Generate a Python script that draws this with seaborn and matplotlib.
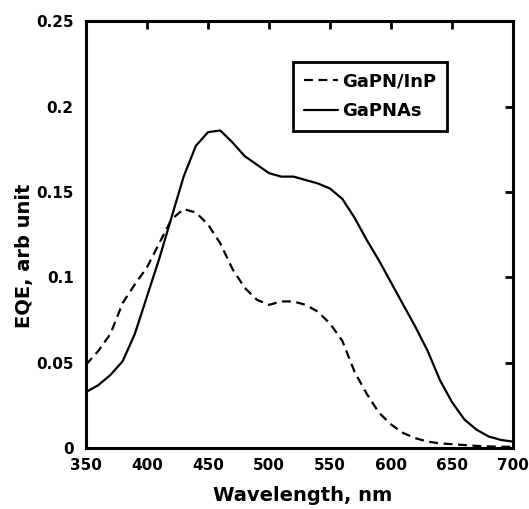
import numpy as np
import pandas as pd
import matplotlib
matplotlib.use("Agg")
import matplotlib.pyplot as plt
import seaborn as sns

# Wavelength grid (nm)
wavelength = [350, 360, 370, 380, 390, 400, 410, 420, 430, 440, 450, 460, 470, 480,
              490, 500, 510, 520, 530, 540, 550, 560, 570, 580, 590, 600, 610, 620,
              630, 640, 650, 660, 670, 680, 690, 700]

# EQE values
eqe_gapn_inp = [0.049, 0.057, 0.067, 0.085, 0.096, 0.106, 0.120, 0.134, 0.140, 0.138,
                0.131, 0.120, 0.105, 0.094, 0.087, 0.084, 0.086, 0.086, 0.084, 0.080,
                0.073, 0.063, 0.045, 0.032, 0.021, 0.014, 0.009, 0.006, 0.004, 0.003,
                0.0025, 0.002, 0.0015, 0.0012, 0.001, 0.001]
eqe_gapnas = [0.033, 0.037, 0.043, 0.051, 0.067, 0.089, 0.111, 0.135, 0.159, 0.177,
              0.185, 0.186, 0.179, 0.171, 0.166, 0.161, 0.159, 0.159, 0.157, 0.155,
              0.152, 0.146, 0.135, 0.122, 0.110, 0.097, 0.084, 0.071, 0.057, 0.040,
              0.027, 0.017, 0.011, 0.007, 0.005, 0.004]

xticks = [350, 400, 450, 500, 550, 600, 650, 700]
yticks = [0, 0.05, 0.1, 0.15, 0.2, 0.25]
ytick_labels = ["0", "0.05", "0.1", "0.15", "0.2", "0.25"]

df = pd.DataFrame({
    "wavelength": wavelength * 2,
    "eqe": eqe_gapn_inp + eqe_gapnas,
    "sample": ["GaPN/InP"] * len(wavelength) + ["GaPNAs"] * len(wavelength),
})

sns.set_theme(style="white")
plt.rcParams["font.family"] = ["DejaVu Sans"]
plt.rcParams["font.weight"] = "bold"
plt.rcParams["text.color"] = "black"
plt.rcParams["axes.labelcolor"] = "black"
plt.rcParams["xtick.color"] = "black"
plt.rcParams["ytick.color"] = "black"

fig = plt.figure(figsize=(5.29, 5.09), dpi=100)
ax = fig.add_axes([0.1626, 0.1189, 0.8074, 0.8398])

sns.lineplot(data=df, x="wavelength", y="eqe", style="sample",
             dashes={"GaPN/InP": (4, 2.5), "GaPNAs": ""},
             color="black", linewidth=1.6, ax=ax)

ax.set_xlim(350, 700)
ax.set_ylim(0, 0.25)
ax.set_xticks(xticks)
ax.set_yticks(yticks)
ax.set_yticklabels(ytick_labels)
ax.tick_params(direction="in", length=6, width=2, top=True, right=True,
               labelsize=11, labelcolor="black")
ax.tick_params(axis="x", pad=7)
ax.tick_params(axis="y", pad=9)
for lbl in ax.get_xticklabels() + ax.get_yticklabels():
    lbl.set_fontweight("bold")
for sp in ax.spines.values():
    sp.set_linewidth(2.2)
    sp.set_color("black")

ax.set_xlabel("Wavelength, nm", fontsize=14, fontweight="bold", color="black")
ax.set_ylabel("EQE, arb unit", fontsize=14, fontweight="bold", color="black")
ax.xaxis.set_label_coords(0.507, -0.088)
ax.yaxis.set_label_coords(-0.122, 0.45)

leg = ax.legend(loc="upper right", bbox_to_anchor=(0.845, 0.905), borderaxespad=0,
                fontsize=13, handlelength=1.9, handletextpad=0.2, frameon=True,
                fancybox=False, framealpha=1, borderpad=0.6, labelspacing=0.65)
leg.get_frame().set_edgecolor("black")
leg.get_frame().set_linewidth(2)
for t in leg.get_texts():
    t.set_fontweight("bold")
    t.set_color("black")

fig.savefig("out.png", dpi=100)
